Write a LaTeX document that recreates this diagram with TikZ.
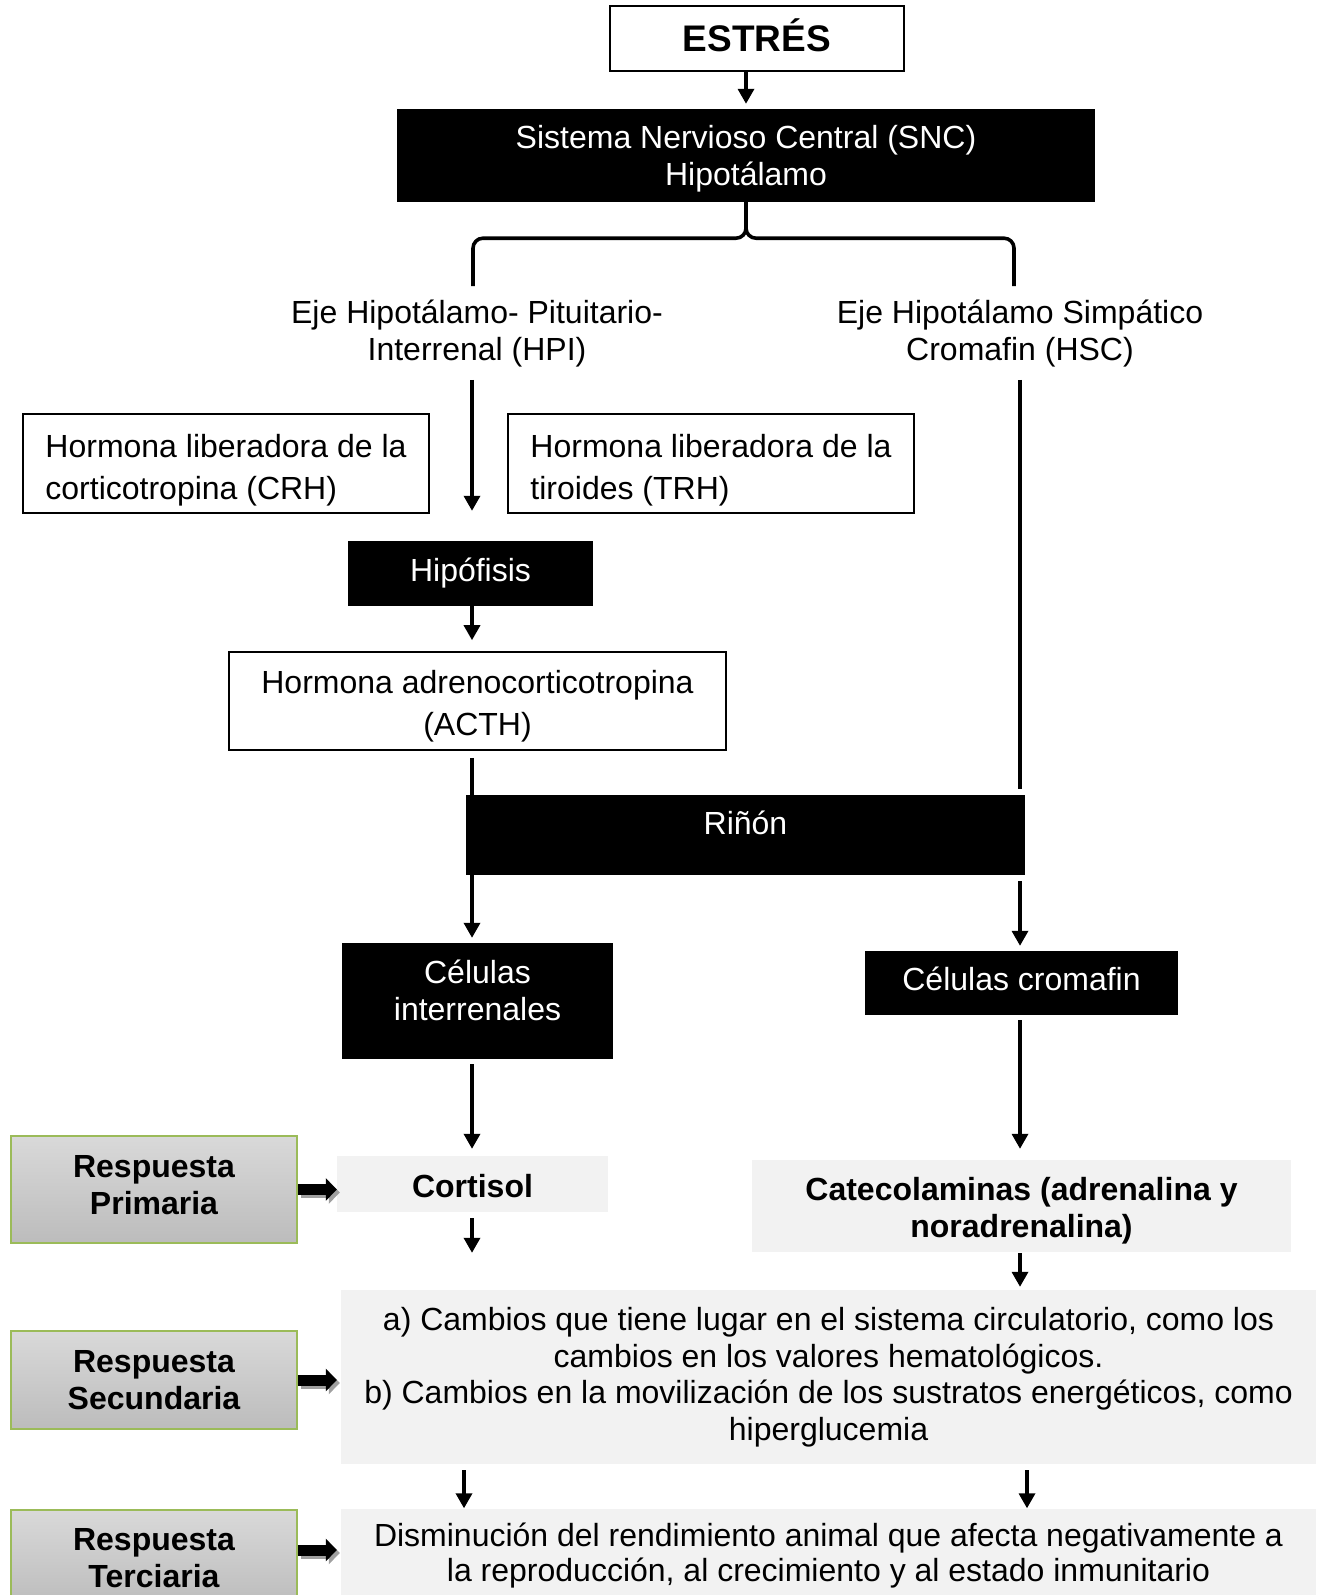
\documentclass[tikz,border=0pt]{standalone}
\usepackage{fontspec}
\setmainfont{Liberation Sans}
\usetikzlibrary{arrows.meta,calc}
\definecolor{lgray}{HTML}{F2F2F2}
\definecolor{gtop}{HTML}{D9D9D9}
\definecolor{gbot}{HTML}{BCBCBC}
\definecolor{gborder}{HTML}{9BBB59}
\definecolor{shad}{HTML}{A0A0A0}
\begin{document}
\begin{tikzpicture}[x=1pt,y=-1pt,
  every node/.style={inner sep=0pt, font=\fontsize{32}{37}\selectfont},
  blk/.style={fill=black, text=white, align=center},
  wbox/.style={draw=black, line width=1.6pt, fill=white},
  lbox/.style={fill=lgray, align=center},
  gbox/.style={draw=gborder, line width=1.5pt, top color=gtop, bottom color=gbot, align=center, font=\fontsize{32}{37}\selectfont\bfseries},
  arr/.style={line width=3.4pt, -{Triangle[length=15pt,width=16pt]}},
  ln/.style={line width=3.4pt},
  brace/.style={line width=3.6pt, rounded corners=10pt},
  barr/.style={line width=11pt, -{Triangle[length=11pt,width=22pt]}},
]
\useasboundingbox (0,0) rectangle (1321,1595);
\coordinate (lc) at (472,0);
\coordinate (rc) at (1020,0);
\coordinate (lc2) at (464,0);
\coordinate (rc2) at (1027,0);
\coordinate (bl) at (473,286);
\coordinate (br) at (1014,286);

\node[wbox, minimum width=294pt, minimum height=65pt, label={[font=\fontsize{37}{42}\selectfont\bfseries, yshift=3pt]center:ESTRÉS}] (estres) at (757,38.5) {};
\node[blk, minimum width=698pt, minimum height=93pt, label={[text=white, align=center, yshift=-3pt]center:Sistema Nervioso Central (SNC)\\Hipotálamo}] (snc) at (746,155.5) {};
\node[align=center] (hpi) at (477,334) {Eje Hipotálamo- Pituitario-\\Interrenal (HPI)};
\node[align=center] (hsc) at (1020,334) {Eje Hipotálamo Simpático\\Cromafin (HSC)};
\node[wbox, minimum width=406pt, minimum height=99pt, label={[align=left, font=\fontsize{32}{42}\selectfont, yshift=-7pt]center:Hormona liberadora de la\\corticotropina (CRH)}] (crh) at (226,463.5) {};
\node[wbox, minimum width=406pt, minimum height=99pt, label={[align=left, font=\fontsize{32}{42}\selectfont, yshift=-7pt]center:Hormona liberadora de la\\tiroides (TRH)}] (trh) at (711,463.5) {};
\node[blk, minimum width=245pt, minimum height=65pt] (hipo) at (470.5,573.5) {Hipófisis};
\node[wbox, minimum width=497pt, minimum height=98pt, label={[align=center, font=\fontsize{32}{42}\selectfont, yshift=-5pt]center:Hormona adrenocorticotropina\\(ACTH)}] (acth) at (477.5,701) {};
\node[blk, minimum width=559pt, minimum height=80pt] (rinon) at (745.5,835) {\raisebox{12pt}[\height][\depth]{Riñón}};
\node[blk, minimum width=271pt, minimum height=116pt, label={[text=white, align=center, yshift=11pt]center:Células\\interrenales}] (inter) at (477.5,1001) {};
\node[blk, minimum width=313pt, minimum height=64pt] (crom) at (1021.5,983) {\raisebox{4pt}[\height][\depth]{Células cromafin}};
\node[lbox, minimum width=271pt, minimum height=56pt, font=\fontsize{32}{37}\selectfont\bfseries] (cort) at (472.5,1184) {\raisebox{-2pt}[\height][\depth]{Cortisol}};
\node[lbox, minimum width=539pt, minimum height=92pt, label={[align=center, font=\fontsize{32}{37}\selectfont\bfseries, yshift=-5pt]center:Catecolaminas (adrenalina y\\noradrenalina)}] (cate) at (1021.5,1206) {};
\node[lbox, minimum width=975pt, minimum height=174pt, font=\fontsize{32}{36.5}\selectfont] (sec) at (828.5,1377) {a) Cambios que tiene lugar en el sistema circulatorio, como los\\cambios en los valores hematológicos.\\b) Cambios en la movilización de los sustratos energéticos, como\\hiperglucemia};
\node[lbox, minimum width=975pt, minimum height=95pt, font=\fontsize{32}{35}\selectfont] (ter) at (828.5,1556) {Disminución del rendimiento animal que afecta negativamente a\\la reproducción, al crecimiento y al estado inmunitario};
\node[gbox, minimum width=286pt, minimum height=107pt, label={[align=center, font=\fontsize{32}{37}\selectfont\bfseries, yshift=4pt]center:Respuesta\\Primaria}] (p1) at (154,1189.5) {};
\node[gbox, minimum width=286pt, minimum height=98pt] (p2) at (154,1380) {Respuesta\\Secundaria};
\node[gbox, minimum width=286pt, minimum height=96pt] (p3) at (154,1558) {Respuesta\\Terciaria};

% connectors
\draw[arr, shorten >=5pt] (estres.south -| snc.north) -- (snc.north);
\draw[brace] (snc.south) -- ++(0,36) -| (bl);
\draw[brace] (snc.south) -- ++(0,36) -| (br);
\draw[arr, shorten <=12pt, shorten >=30pt] (lc |- hpi.south) -- (lc |- hipo.north);
\draw[arr, shorten >=11pt] (lc |- hipo.south) -- (lc |- acth.north);
\draw[ln, shorten <=7pt] (lc |- acth.south) -- (lc |- rinon.north);
\draw[ln, shorten <=12pt, shorten >=6pt] (rc |- hsc.south) -- (rc |- rinon.north);
\draw[arr, shorten >=5pt] (lc |- rinon.south) -- (lc |- inter.north);
\draw[arr, shorten <=6pt, shorten >=5pt] (rc |- rinon.south) -- (rc |- crom.north);
\draw[arr, shorten <=5pt, shorten >=7pt] (lc |- inter.south) -- (lc |- cort.north);
\draw[arr, shorten <=5pt, shorten >=11pt] (rc |- crom.south) -- (rc |- cate.north);
\draw[arr, shorten <=6pt, shorten >=37pt] (lc |- cort.south) -- (lc |- sec.north);
\draw[arr, shorten <=1pt, shorten >=3pt] (rc |- cate.south) -- (rc |- sec.north);
\draw[arr, shorten <=6pt] (lc2 |- sec.south) -- (lc2 |- ter.north);
\draw[arr, shorten <=6pt] (rc2 |- sec.south) -- (rc2 |- ter.north);

% block arrows with shadow
\begin{scope}[transform canvas={xshift=3pt,yshift=-3pt}]
\draw[barr, shad] (p1.east) -- (p1.east -| cort.west);
\draw[barr, shad, shorten >=4pt] (p2.east) -- (p2.east -| sec.west);
\draw[barr, shad, shorten >=4pt] ([yshift=8pt]p3.east) -- ([yshift=8pt]p3.east -| ter.west);
\end{scope}
\draw[barr] (p1.east) -- (p1.east -| cort.west);
\draw[barr, shorten >=4pt] (p2.east) -- (p2.east -| sec.west);
\draw[barr, shorten >=4pt] ([yshift=8pt]p3.east) -- ([yshift=8pt]p3.east -| ter.west);
\end{tikzpicture}
\end{document}
